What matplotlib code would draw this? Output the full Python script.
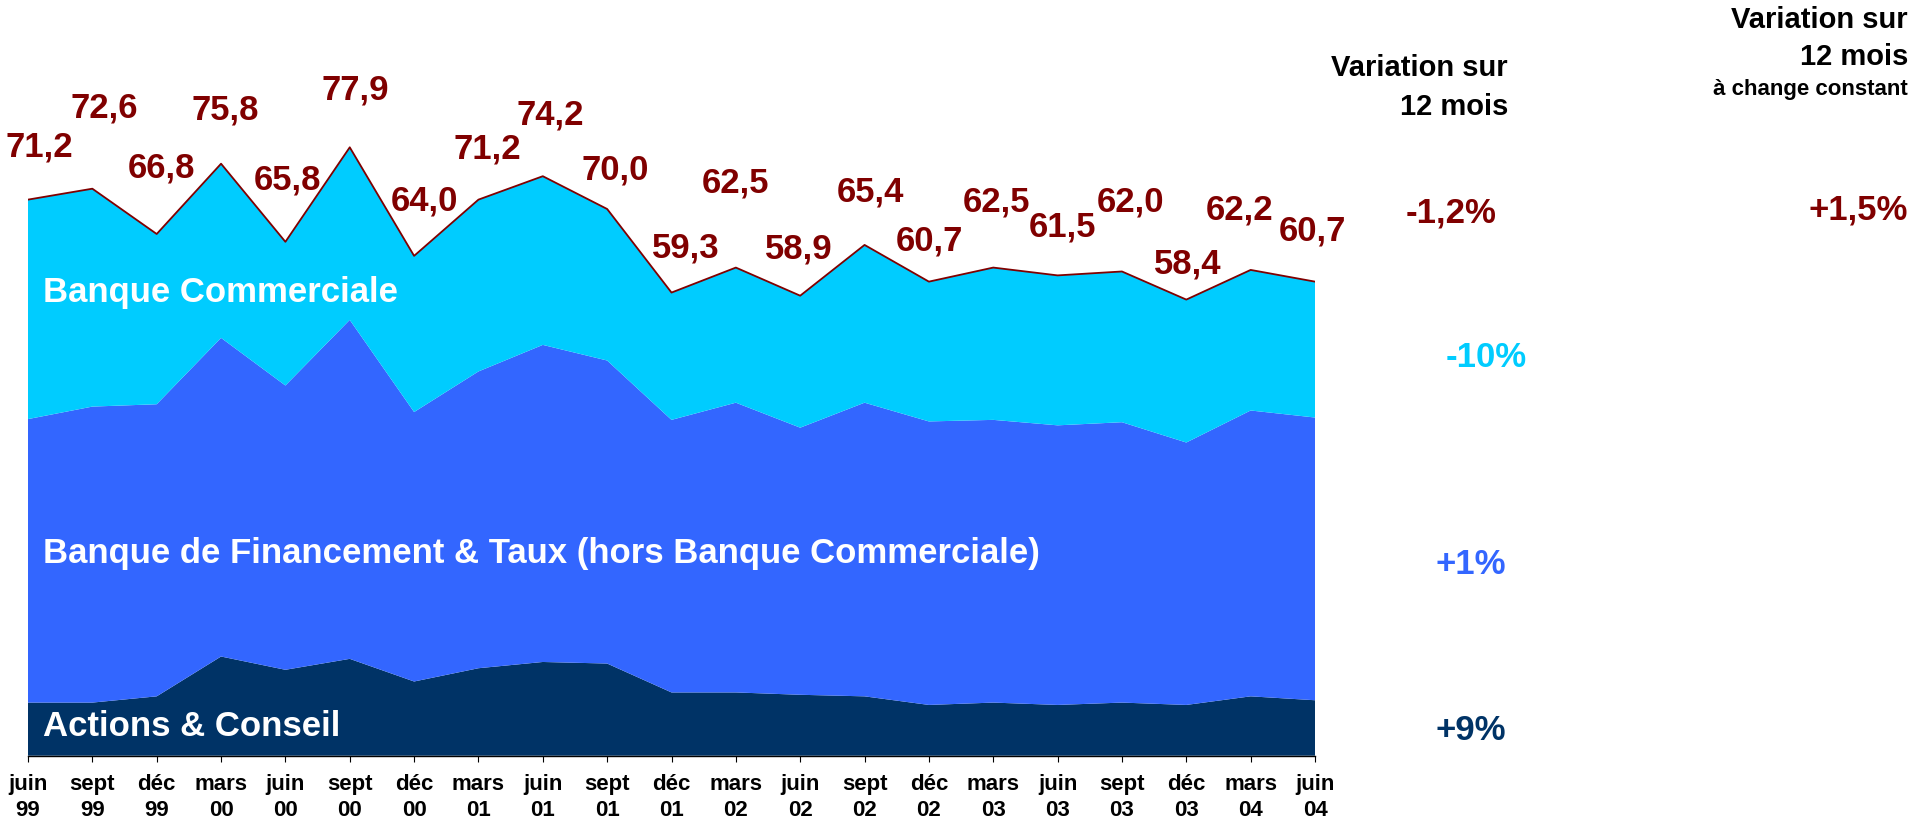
import matplotlib
matplotlib.use("Agg")
import numpy as np
from matplotlib import pyplot as plt

plt.rcParams['font.family'] = ['Liberation Sans', 'DejaVu Sans']
plt.rcParams['font.weight'] = 'bold'

# quarters
months = ["juin", "sept", "déc", "mars", "juin", "sept", "déc", "mars", "juin", "sept", "déc",
          "mars", "juin", "sept", "déc", "mars", "juin", "sept", "déc", "mars", "juin"]
years = ["99", "99", "99", "00", "00", "00", "00", "01", "01", "01", "01",
         "02", "02", "02", "02", "03", "03", "03", "03", "04", "04"]

# stacked components
actions_conseil = [6.8, 6.8, 7.6, 12.7, 11.0, 12.4, 9.5, 11.2, 12.0, 11.8, 8.1,
                   8.1, 7.8, 7.6, 6.5, 6.8, 6.5, 6.8, 6.5, 7.6, 7.1]
banque_financement = [36.3, 37.9, 37.4, 40.8, 36.4, 43.4, 34.5, 38.0, 40.6, 38.8, 34.9,
                      37.1, 34.2, 37.6, 36.3, 36.2, 35.8, 35.9, 33.6, 36.6, 36.2]
banque_commerciale = [28.1, 27.9, 21.8, 22.3, 18.4, 22.1, 20.0, 22.0, 21.6, 19.4, 16.3,
                      17.3, 16.9, 20.2, 17.9, 19.5, 19.2, 19.3, 18.3, 18.0, 17.4]

# variation sur 12 mois
var_total = "-1,2%"
var_total_cst = "+1,5%"
var_bc = "-10%"
var_bft = "+1%"
var_ac = "+9%"

# label offsets in pixels (dx, dy) relative to each point
label_offsets = [(11, 53), (12, 81), (5, 66), (4, 54), (2, 62), (5, 57), (10, 55),
                 (9, 51), (7, 61), (8, 39), (14, 45), (0, 85), (-1, 47), (6, 53),
                 (1, 41), (3, 66), (5, 48), (9, 69), (1, 36), (-11, 60), (-3, 51)]

c_bc = "#00CCFF"
c_bft = "#3366FF"
c_ac = "#003366"
c_red = "#800000"

W, H = 1913, 827
fig = plt.figure(figsize=(W / 100, H / 100), dpi=100)


def fx(x):
    return x / W


def fy(y):
    return 1 - y / H


ax = fig.add_axes([fx(28), fy(755.7), (1315 - 28) / W, (755.7 - 130.9) / H])

x = np.arange(len(months))
total = np.array(actions_conseil) + np.array(banque_financement) + np.array(banque_commerciale)

ax.stackplot(x, actions_conseil, banque_financement, banque_commerciale,
             colors=[c_ac, c_bft, c_bc], linewidth=0)
ax.plot(x, total, color=c_red, lw=1.3)

for i, v in enumerate(total):
    dx, dy = label_offsets[i]
    ax.annotate(f"{v:.1f}".replace(".", ","), xy=(i, v), xytext=(dx, dy),
                textcoords="offset pixels", ha="center", va="center",
                fontsize=25, color=c_red, fontweight="bold")

ax.set_xlim(0, len(months) - 1)
ax.set_ylim(0, 80)
ax.set_yticks([])
for s in ["left", "right", "top"]:
    ax.spines[s].set_visible(False)
ax.spines["bottom"].set_color("black")
ax.spines["bottom"].set_linewidth(1)
ax.set_xticks(x)
ax.set_xticklabels([f"{m}\n{y}" for m, y in zip(months, years)], fontsize=16,
                   fontweight="bold", linespacing=1.3)
ax.tick_params(axis="x", direction="out", length=4.5, width=0.8, pad=9, color="black")

# area names
fig.text(fx(43), fy(293), "Banque Commerciale", color="white", fontsize=25,
         fontweight="bold", ha="left", va="center")
fig.text(fx(43), fy(553), "Banque de Financement & Taux (hors Banque Commerciale)",
         color="white", fontsize=25, fontweight="bold", ha="left", va="center")
fig.text(fx(43), fy(727), "Actions & Conseil", color="white", fontsize=25,
         fontweight="bold", ha="left", va="center")

# right hand column
fig.text(fx(1508), fy(68), "Variation sur", fontsize=21, ha="right", va="center")
fig.text(fx(1508), fy(107), "12 mois", fontsize=21, ha="right", va="center")
fig.text(fx(1908), fy(20), "Variation sur", fontsize=21, ha="right", va="center")
fig.text(fx(1908), fy(57), "12 mois", fontsize=21, ha="right", va="center")
fig.text(fx(1908), fy(90), "à change constant", fontsize=16, ha="right", va="center")

fig.text(fx(1451), fy(213), var_total, fontsize=25, color=c_red, ha="center", va="center")
fig.text(fx(1908), fy(210), var_total_cst, fontsize=25, color=c_red, ha="right", va="center")
fig.text(fx(1486), fy(358), var_bc, fontsize=25, color=c_bc, ha="center", va="center")
fig.text(fx(1471), fy(565), var_bft, fontsize=25, color=c_bft, ha="center", va="center")
fig.text(fx(1471), fy(730), var_ac, fontsize=25, color=c_ac, ha="center", va="center")

plt.savefig("out.png", dpi=100)
